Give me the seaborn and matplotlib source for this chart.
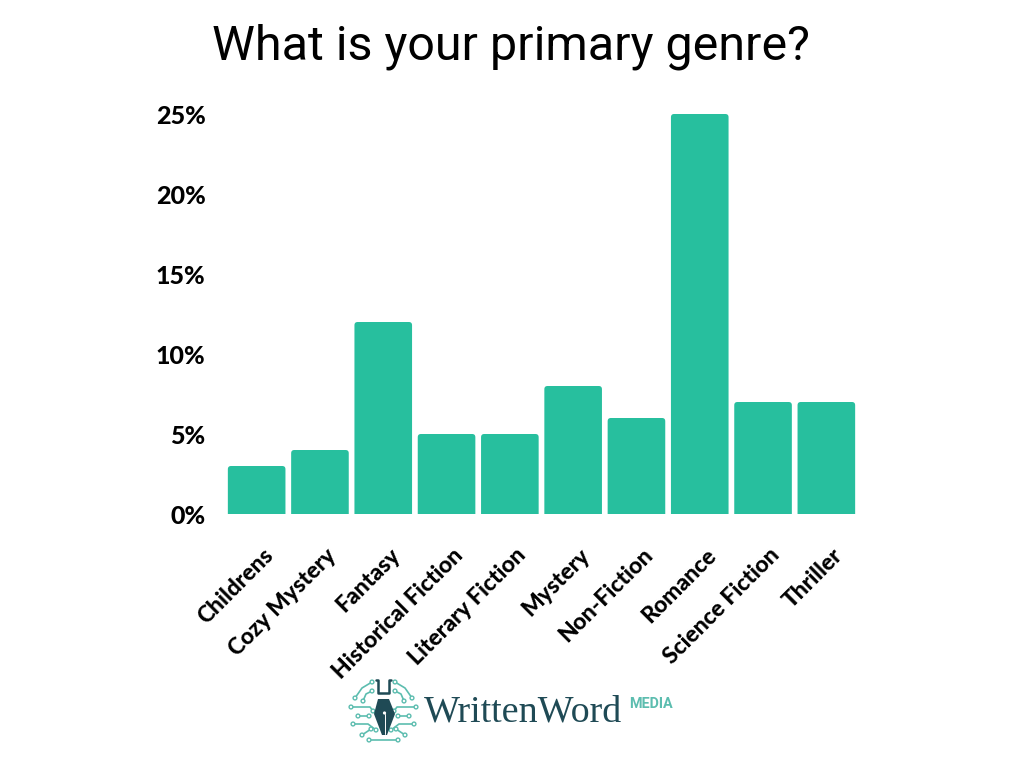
import numpy as np
import pandas as pd
import matplotlib
matplotlib.use("Agg")
import matplotlib.pyplot as plt
from matplotlib.patches import FancyBboxPatch, Circle, Polygon
from matplotlib.transforms import ScaledTranslation
import seaborn as sns

genres = ["Childrens", "Cozy Mystery", "Fantasy", "Historical Fiction", "Literary Fiction",
          "Mystery", "Non-Fiction", "Romance", "Science Fiction", "Thriller"]
shares = [3, 4, 12, 5, 5, 8, 6, 25, 7, 7]
y_ticks = [0, 5, 10, 15, 20, 25]

teal = "#27BF9E"
dark = "#1F4A55"
logo_teal = "#5CBDAF"
label_font = ["Lato", "DejaVu Sans"]

sns.set_theme(style="white")

data = pd.DataFrame({"genre": genres, "share": shares})

fig = plt.figure(figsize=(10.24, 7.68), dpi=100)
# axes placed by pixels: x 225-858, y 114-514
ax = fig.add_axes([225 / 1024, 1 - 514 / 768, 633 / 1024, 400 / 768])
sns.barplot(data, x="genre", y="share", color=teal, width=0.91, saturation=1, ax=ax)

# swap the square bars for ones with rounded top corners
for bar in list(ax.patches):
    x, w, h = bar.get_x(), bar.get_width(), bar.get_height()
    bar.set_visible(False)
    ax.add_patch(FancyBboxPatch((x, -1), w, h + 1,
                                boxstyle="round,pad=0,rounding_size=0.05",
                                mutation_aspect=4, fc=teal, ec="none"))

ax.set_xlim(-0.5, 9.5)
ax.set_ylim(0, 25)
ax.set_yticks(y_ticks)
ax.set_yticklabels([f"{t}%" for t in y_ticks], family=label_font, weight="black", fontsize=18, color="black")
ax.set_xlabel("")
ax.set_ylabel("")
ax.tick_params(axis="y", pad=14, length=0)
ax.tick_params(axis="x", pad=22, length=0)
plt.setp(ax.get_xticklabels(), rotation=45, ha="right", va="top", rotation_mode="anchor",
         family=label_font, weight="black", fontsize=16.5, color="black")
# nudge the rotated labels a little to the right
nudge = ScaledTranslation(4 / 72, 0, fig.dpi_scale_trans)
for label in ax.get_xticklabels():
    label.set_transform(label.get_transform() + nudge)
sns.despine(ax=ax, left=True, bottom=True)

fig.text(511 / 1024, 1 - 60 / 768, "What is your primary genre?", family="Roboto",
         fontsize=34.8, ha="center", va="baseline", color="black")

# logo, drawn on an overlay in pixel coordinates
lg = fig.add_axes([0, 0, 1, 1], facecolor="none")
lg.set_xlim(0, 1024)
lg.set_ylim(768, 0)
lg.axis("off")

# left half of the circuit board, the right half mirrors it around the nib
circuits = [
    [(372, 682), (362, 688), (355, 698)],
    [(372, 691), (366, 694), (363, 701)],
    [(351, 707), (370, 707), (373, 711)],
    [(358, 716), (369, 716)],
    [(353, 724), (368, 724), (376, 730)],
    [(362, 735), (371, 729)],
]
for path in circuits:
    for side in (1, -1):
        pts = [(x if side == 1 else 767 - x, y) for x, y in path]
        xs, ys = zip(*pts)
        lg.plot(xs, ys, color=logo_teal, lw=1.2, solid_capstyle="round")
        for end in (pts[0], pts[-1]):
            lg.add_patch(Circle(end, 1.9, fc="white", ec=logo_teal, lw=1.0, zorder=3))
lg.plot([369, 398], [740, 740], color=logo_teal, lw=1.2)
for cx in (369, 398):
    lg.add_patch(Circle((cx, 740), 1.9, fc="white", ec=logo_teal, lw=1.0, zorder=3))

lg.plot([376, 378, 378, 389, 389, 391], [680, 680, 693, 693, 680, 680], color=dark, lw=1.8)
lg.add_patch(Polygon([(378, 699), (389, 699), (395, 714), (387, 735), (382, 735), (374, 714)],
                     fc=dark, ec="none", zorder=4))
lg.add_patch(Circle((384.5, 713), 1.6, fc="white", ec="none", zorder=5))
lg.plot([384.5, 384.5], [714, 734], color="white", lw=0.7, zorder=5)

lg.text(424, 722, "WrittenWord", family="Liberation Serif", fontsize=27.4, color=dark,
        ha="left", va="baseline")
lg.text(629, 708, "MEDIA", family="Roboto", weight="bold", fontsize=10.4, color=logo_teal,
        ha="left", va="baseline")

fig.savefig("out.png", dpi=100)
